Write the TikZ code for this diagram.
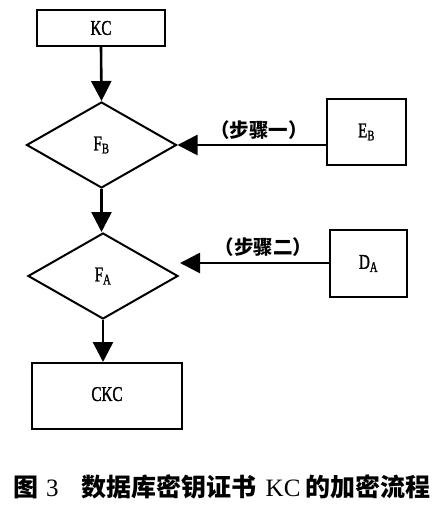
\documentclass[tikz,border=0pt]{standalone}
\usepackage{fontspec}
\setmainfont{Liberation Serif}
\newfontfamily\cond[FakeStretch=0.72,FakeBold=1.2]{Liberation Serif}
\newfontfamily\cjk{Noto Sans CJK SC}
\usetikzlibrary{shapes.geometric,arrows.meta}
\tikzset{
  boxnode/.style={draw, line width=2pt, inner sep=0pt, font=\fontsize{21}{21}\selectfont\cond},
  decide/.style={draw, diamond, line width=2pt, inner sep=0pt, minimum width=150pt, minimum height=86pt, font=\fontsize{21}{21}\selectfont\cond},
  flow/.style={line width=2.6pt, -{Triangle[length=20pt,width=20pt]}},
  steplabel/.style={font=\fontsize{19.5}{19.5}\selectfont\cjk\bfseries, inner sep=0pt}
}
\begin{document}
\begin{tikzpicture}[x=1pt,y=-1pt]
\useasboundingbox (0,0) rectangle (440,505);
\node[boxnode, minimum width=128pt, minimum height=36pt] (KC) at (101,28) {KC};
\node[decide] (FB) at (101.5,145) {F\textsubscript{B}};
\node[decide] (FA) at (103,276) {F\textsubscript{A}};
\node[boxnode, minimum width=150pt, minimum height=66pt] (CKC) at (107,396) {\raisebox{4pt}{CKC}};
\node[boxnode, minimum width=79pt, minimum height=66pt] (EB) at (366.5,132) {\raisebox{-8pt}{E\textsubscript{B}}};
\node[boxnode, minimum width=77pt, minimum height=67pt] (DA) at (368.5,263.5) {\raisebox{-8pt}{D\textsubscript{A}}};
\coordinate (FAin) at (180,263);
\draw[flow] (KC.south) -- (FB.north);
\draw[flow] (FB.south) -- (FB.south |- FA.north);
\draw[flow] (FA.south) -- (FA.south |- CKC.north);
\draw[flow] (EB.west |- FB.east) -- node[steplabel, pos=0.45, yshift=15pt] {（步骤一）} (FB.east);
\draw[flow] (DA.west |- FAin) -- node[steplabel, pos=0.44, yshift=16pt] {（步骤二）} (FAin);
\node[anchor=west, inner sep=0pt, font=\fontsize{25}{25}\selectfont] (cap) at (13,487)
  {{\cjk\bfseries 图}\hspace{8pt}3\hspace{23pt}{\cjk\bfseries 数据库密钥证书}\hspace{9pt}KC\hspace{5pt}{\cjk\bfseries 的加密流程}};
\end{tikzpicture}
\end{document}
